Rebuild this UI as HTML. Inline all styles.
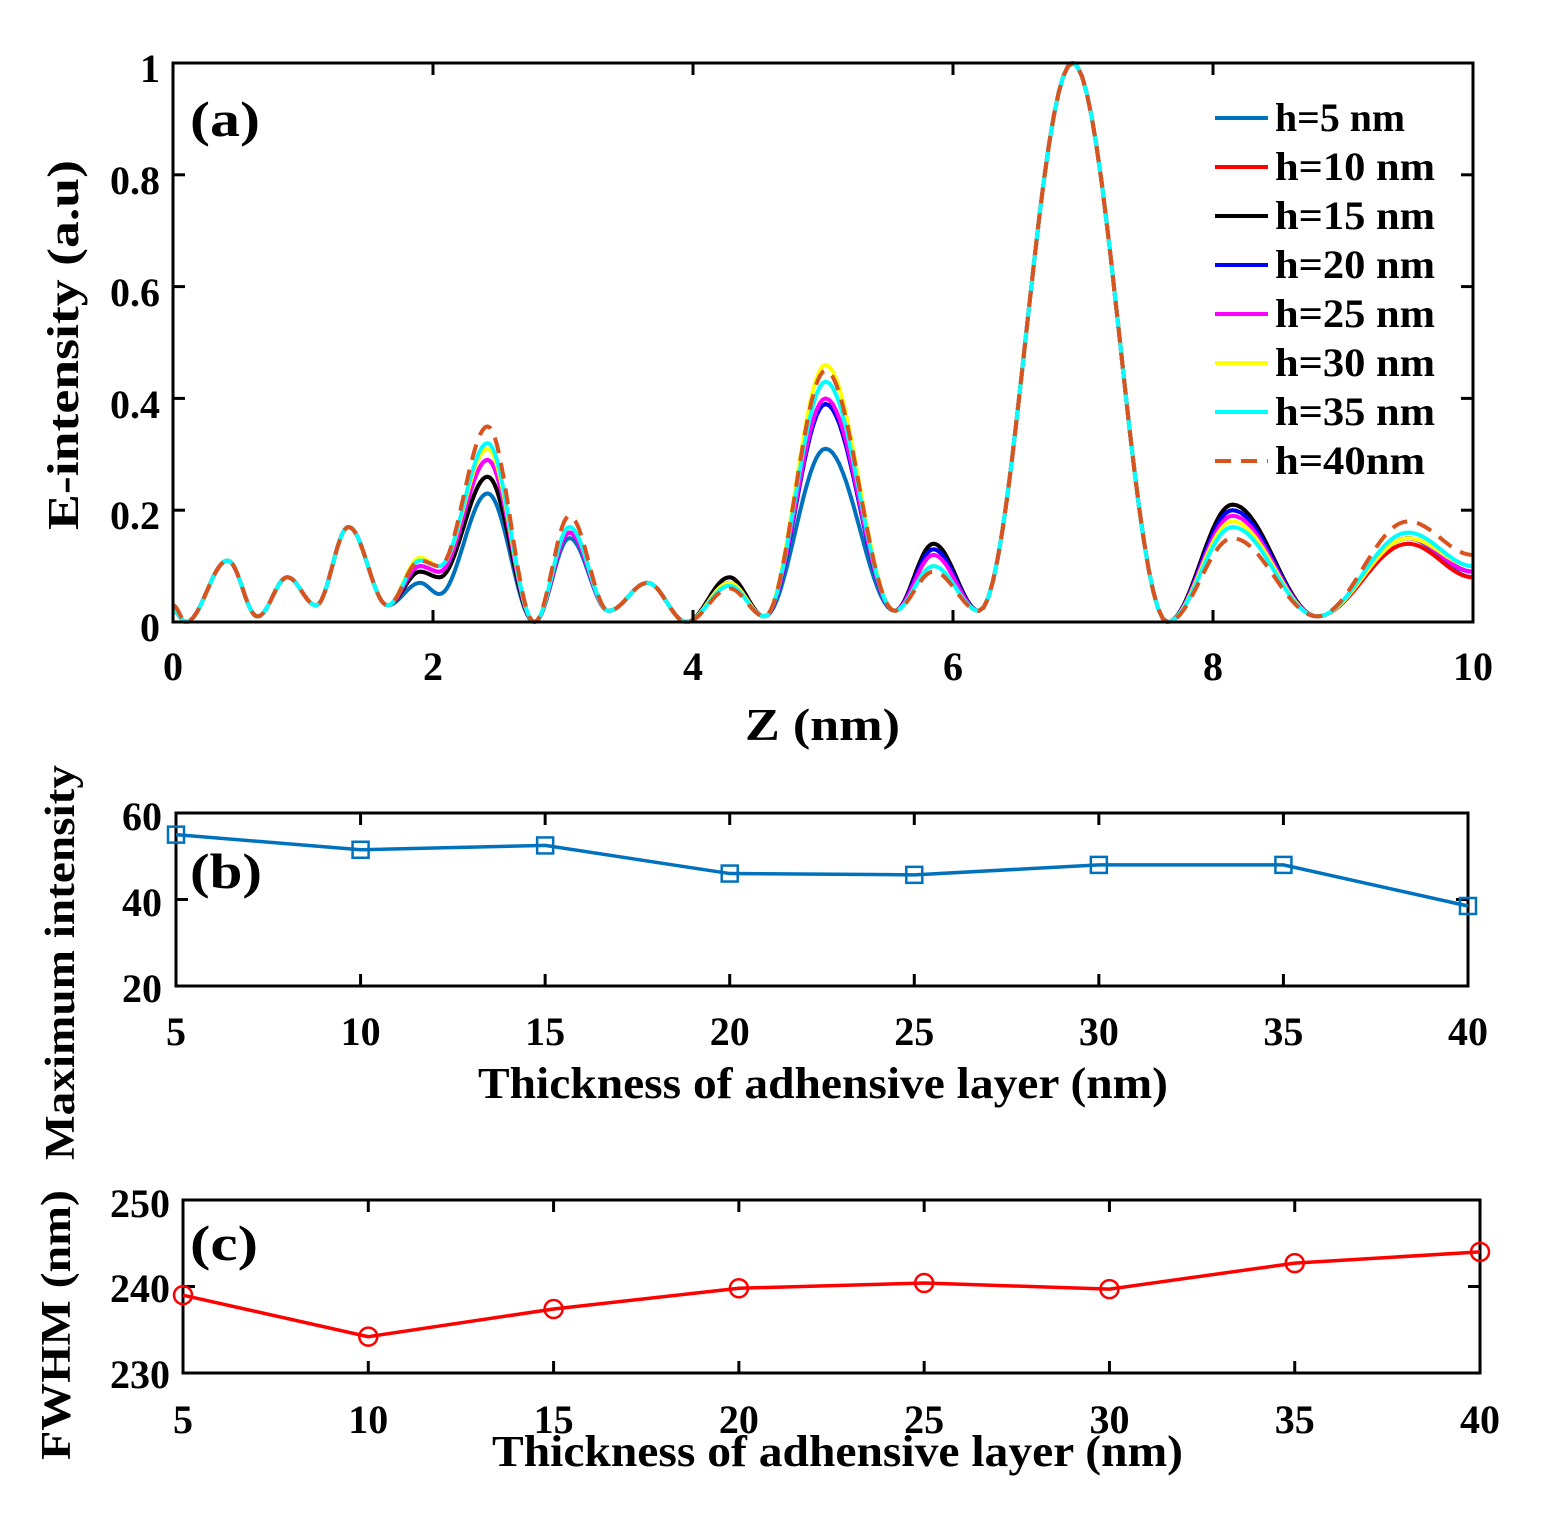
<!DOCTYPE html>
<html><head><meta charset="utf-8"><style>
html,body{margin:0;padding:0;background:#fff}
svg{display:block}
text{font-family:"Liberation Serif",serif;font-weight:bold;fill:#000}
</style></head><body>
<svg id="s" width="1545" height="1515" viewBox="0 0 1545 1515" xmlns="http://www.w3.org/2000/svg">
<g id="curves"></g>
<rect x="173" y="63" width="1300" height="559" fill="none" stroke="#000" stroke-width="3"/>
<g id="ticks" stroke="#000" stroke-width="3"></g>
<g font-size="40" text-anchor="end">
<text x="160" y="82">1</text>
<text x="160" y="194">0.8</text>
<text x="160" y="306">0.6</text>
<text x="160" y="418">0.4</text>
<text x="160" y="529">0.2</text>
<text x="160" y="641">0</text>
</g>
<g font-size="40" text-anchor="middle">
<text x="173" y="680">0</text><text x="433" y="680">2</text><text x="693" y="680">4</text>
<text x="953" y="680">6</text><text x="1213" y="680">8</text><text x="1473" y="680">10</text>
</g>
<text x="745" y="740" font-size="46" textLength="155" lengthAdjust="spacingAndGlyphs">Z (nm)</text>
<text transform="translate(78,530) rotate(-90)" font-size="44" textLength="370" lengthAdjust="spacingAndGlyphs">E-intensity (a.u)</text>
<text x="190" y="136" font-size="50" textLength="70" lengthAdjust="spacingAndGlyphs">(a)</text>
<g id="legend" font-size="40"></g>

<rect x="176" y="813" width="1292" height="173" fill="none" stroke="#000" stroke-width="3"/>
<g font-size="40" text-anchor="end">
<text x="162" y="830">60</text><text x="162" y="916">40</text><text x="162" y="1002">20</text>
</g>
<g id="bx" font-size="40" text-anchor="middle"></g>
<text x="478" y="1098" font-size="44" textLength="690" lengthAdjust="spacingAndGlyphs">Thickness of adhensive layer (nm)</text>
<text transform="translate(74,1160) rotate(-90)" font-size="42" textLength="395" lengthAdjust="spacingAndGlyphs">Maximum intensity</text>
<text x="190" y="888" font-size="50" textLength="72" lengthAdjust="spacingAndGlyphs">(b)</text>
<g id="bdata"></g>

<rect x="183" y="1200" width="1297" height="173" fill="none" stroke="#000" stroke-width="3"/>
<g font-size="40" text-anchor="end">
<text x="170" y="1217">250</text><text x="170" y="1302">240</text><text x="170" y="1388">230</text>
</g>
<g id="cx" font-size="40" text-anchor="middle"></g>
<text x="492" y="1466" font-size="44" textLength="691" lengthAdjust="spacingAndGlyphs">Thickness of adhensive layer (nm)</text>
<text transform="translate(70,1460) rotate(-90)" font-size="42" textLength="270" lengthAdjust="spacingAndGlyphs">FWHM (nm)</text>
<text x="190" y="1260" font-size="50" textLength="68" lengthAdjust="spacingAndGlyphs">(c)</text>
<g id="cdata"></g>
</svg>
<script>
var NS="http://www.w3.org/2000/svg";
function el(t,a,p){var e=document.createElementNS(NS,t);for(var k in a)e.setAttribute(k,a[k]);p.appendChild(e);return e;}
var Z=[0,0.1,0.42,0.65,0.88,1.1,1.35,1.65,1.9,2.05,2.42,2.78,3.05,3.35,3.65,3.95,4.28,4.55,5.02,5.55,5.85,6.2,6.92,7.65,8.15,8.8,9.5,10];
var B=[0.02,0,0.11,0.01,0.08,0.03,0.17,0.03,0.07,0.05,0.23,0,0.15,0.02,0.07,0,0.07,0.01,0.31,0.02,0.13,0.02,1.0,0,0.2,0.01,0.15,0.08];
var ov={8:[.07,.09,.09,.1,.1,.115,.11,.11],9:[.05,.08,.08,.09,.09,.1,.1,.1],10:[.23,.26,.26,.29,.29,.31,.32,.35],
12:[.15,.16,.16,.16,.16,.17,.17,.19],16:[.07,.08,.08,.07,.07,.07,.065,.06],18:[.31,.39,.39,.39,.40,.46,.43,.45],
20:[.13,.14,.14,.13,.12,.10,.10,.09],24:[.2,.21,.21,.2,.19,.18,.17,.15],26:[.15,.14,.15,.15,.15,.15,.16,.18],27:[.08,.08,.09,.09,.09,.1,.1,.12],0:[.02,.02,.02,.02,.02,.02,.02,.03]};
var cols=["#0072BD","#FF0000","#000000","#0000FF","#FF00FF","#FFFF00","#00FFFF","#D9531E"];
var labs=["h=5 nm","h=10 nm","h=15 nm","h=20 nm","h=25 nm","h=30 nm","h=35 nm","h=40nm"];
var lw=[130,160,160,160,160,160,160,150];
var g=document.getElementById("curves");
function X(z){return 173+z*130}function Y(v){return 622-v*559}
for(var s=0;s<8;s++){
  var V=B.slice();for(var k in ov)V[k]=ov[k][s];
  var d="";
  for(var i=0;i<Z.length-1;i++){
    for(var j=0;j<=20;j++){var t=j/20;var z=Z[i]+(Z[i+1]-Z[i])*t;var f=(1-Math.cos(Math.PI*t))/2;var v=V[i]+(V[i+1]-V[i])*f;
      d+=(d?"L":"M")+X(z).toFixed(1)+" "+Y(v).toFixed(1);}
  }
  var a={d:d,fill:"none",stroke:cols[s],"stroke-width":4,"stroke-linejoin":"round"};
  if(s==7){a["stroke-dasharray"]="16 10";}
  el("path",a,g);
  var ly=118+s*49;
  var la={x1:1215,x2:1268,y1:ly,y2:ly,stroke:cols[s],"stroke-width":4};
  if(s==7)la["stroke-dasharray"]="16 10";
  el("line",la,document.getElementById("legend"));
  var tx=el("text",{x:1275,y:ly+13,textLength:lw[s],lengthAdjust:"spacingAndGlyphs"},document.getElementById("legend"));tx.textContent=labs[s];
}
var tk=document.getElementById("ticks");
for(var i=0;i<=5;i++){var x=173+i*260;el("line",{x1:x,x2:x,y1:622,y2:610},tk);el("line",{x1:x,x2:x,y1:63,y2:75},tk);}
for(var i=0;i<=5;i++){var y=622-i*111.8;el("line",{x1:173,x2:185,y1:y,y2:y},tk);el("line",{x1:1473,x2:1461,y1:y,y2:y},tk);}
var bd=[55,51.5,52.5,46,45.7,48,48,38.5];var bp="";
for(var i=0;i<8;i++){var x=176+i*184.57;
  el("line",{x1:x,x2:x,y1:986,y2:974},tk);el("line",{x1:x,x2:x,y1:813,y2:825},tk);
  var t=el("text",{x:x,y:1045},document.getElementById("bx"));t.textContent=5+5*i;
  var y=813+(60-bd[i])*4.325;bp+=(i?"L":"M")+x+" "+y;}
[813,899.5,986].forEach(function(y){el("line",{x1:176,x2:188,y1:y,y2:y},tk);el("line",{x1:1468,x2:1456,y1:y,y2:y},tk);});
var bg=document.getElementById("bdata");
el("path",{d:bp,fill:"none",stroke:"#0072BD","stroke-width":3.5},bg);
for(var i=0;i<8;i++){var x=176+i*184.57,y=813+(60-bd[i])*4.325;el("rect",{x:x-8,y:y-8,width:16,height:16,fill:"none",stroke:"#0072BD","stroke-width":2.5},bg);}
var cd=[239,234.2,237.4,239.8,240.4,239.7,242.7,244];var cp="";
for(var i=0;i<8;i++){var x=183+i*185.29;
  el("line",{x1:x,x2:x,y1:1373,y2:1361},tk);el("line",{x1:x,x2:x,y1:1200,y2:1212},tk);
  var t=el("text",{x:x,y:1433},document.getElementById("cx"));t.textContent=5+5*i;
  var y=1200+(250-cd[i])*8.65;cp+=(i?"L":"M")+x+" "+y;}
[1200,1286.5,1373].forEach(function(y){el("line",{x1:183,x2:195,y1:y,y2:y},tk);el("line",{x1:1480,x2:1468,y1:y,y2:y},tk);});
var cg=document.getElementById("cdata");
el("path",{d:cp,fill:"none",stroke:"#FF0000","stroke-width":3.5},cg);
for(var i=0;i<8;i++){var x=183+i*185.29,y=1200+(250-cd[i])*8.65;el("circle",{cx:x,cy:y,r:9,fill:"none",stroke:"#FF0000","stroke-width":2.5},cg);}
</script>
</body></html>
